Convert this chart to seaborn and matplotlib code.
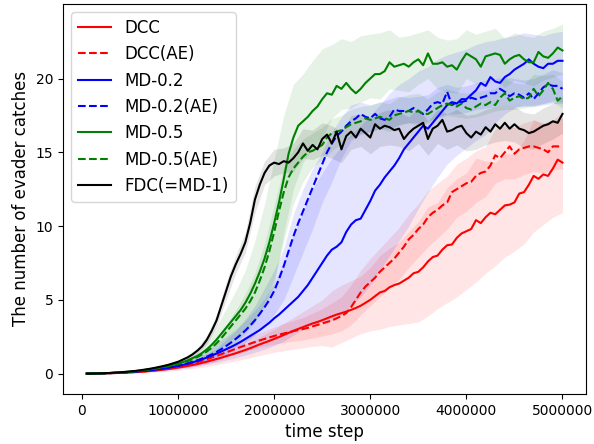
import numpy as np
import pandas as pd
import seaborn as sns
import matplotlib
matplotlib.use("Agg")
import matplotlib.pyplot as plt

# time steps of the curves (every 50000) and of the shaded bands (every 100000)
steps = np.arange(1, 101) * 50000
band_steps = np.arange(1, 51) * 100000

# mean number of evader catches
dcc = [0.0, 0.0, 0.01, 0.01, 0.02, 0.03, 0.04, 0.05, 0.06, 0.08,
       0.1, 0.12, 0.14, 0.17, 0.2, 0.23, 0.27, 0.31, 0.36, 0.41,
       0.46, 0.52, 0.58, 0.65, 0.73, 0.81, 0.9, 0.99, 1.08, 1.18,
       1.28, 1.38, 1.49, 1.6, 1.72, 1.85, 1.98, 2.1, 2.22, 2.35,
       2.48, 2.62, 2.76, 2.9, 3.03, 3.15, 3.28, 3.4, 3.5, 3.62,
       3.75, 3.88, 4.0, 4.1, 4.2, 4.32, 4.45, 4.6, 4.8, 5.0,
       5.25, 5.5, 5.6, 5.85, 6.0, 6.1, 6.3, 6.5, 6.8, 6.9,
       7.2, 7.6, 7.9, 8.0, 8.4, 8.7, 8.75, 9.2, 9.5, 9.65,
       9.8, 10.4, 10.2, 10.6, 10.9, 10.8, 11.1, 11.4, 11.45, 11.6,
       12.2, 12.3, 12.8, 13.4, 13.2, 13.5, 13.4, 13.9, 14.5, 14.3]
dcc_ae = [0.0, 0.0, 0.01, 0.01, 0.02, 0.03, 0.04, 0.05, 0.07, 0.09,
          0.11, 0.13, 0.16, 0.19, 0.22, 0.26, 0.3, 0.35, 0.41, 0.47,
          0.54, 0.61, 0.69, 0.78, 0.88, 0.98, 1.09, 1.2, 1.32, 1.44,
          1.56, 1.68, 1.8, 1.92, 2.03, 2.14, 2.25, 2.35, 2.45, 2.55,
          2.64, 2.72, 2.8, 2.88, 2.95, 3.02, 3.1, 3.2, 3.3, 3.4,
          3.5, 3.6, 3.75, 3.9, 4.1, 4.5, 5.0, 5.5, 5.9, 6.2,
          6.5, 6.9, 7.2, 7.5, 7.8, 8.2, 8.6, 9.1, 9.4, 9.8,
          10.1, 10.6, 10.9, 11.1, 11.4, 11.6, 12.3, 12.5, 12.7, 12.9,
          13.0, 13.4, 13.6, 13.7, 14.1, 14.8, 14.6, 15.0, 15.4, 14.9,
          15.2, 15.3, 15.4, 15.4, 15.3, 15.2, 15.0, 15.4, 15.4, 15.4]
md02 = [0.0, 0.0, 0.01, 0.02, 0.03, 0.04, 0.05, 0.07, 0.09, 0.11,
        0.13, 0.16, 0.19, 0.22, 0.26, 0.3, 0.35, 0.4, 0.46, 0.52,
        0.59, 0.67, 0.76, 0.86, 0.97, 1.09, 1.22, 1.36, 1.5, 1.65,
        1.8, 1.97, 2.15, 2.35, 2.55, 2.75, 2.95, 3.2, 3.45, 3.75,
        4.0, 4.3, 4.6, 4.9, 5.2, 5.6, 6.0, 6.5, 7.0, 7.5,
        8.0, 8.4, 8.6, 8.9, 9.6, 10.1, 10.4, 10.5, 11.1, 11.7,
        12.4, 12.8, 13.3, 13.7, 14.1, 14.6, 15.2, 15.6, 16.0, 16.4,
        16.8, 16.6, 17.0, 17.4, 17.8, 18.2, 18.4, 18.3, 18.6, 18.6,
        18.9, 19.2, 19.7, 19.5, 20.1, 19.8, 19.7, 20.1, 20.3, 20.6,
        20.8, 21.0, 21.3, 21.0, 20.8, 20.7, 21.0, 21.0, 21.2, 21.2]
md02_ae = [0.0, 0.0, 0.01, 0.02, 0.03, 0.04, 0.05, 0.07, 0.09, 0.11,
           0.14, 0.17, 0.2, 0.24, 0.28, 0.32, 0.37, 0.42, 0.48, 0.55,
           0.62, 0.7, 0.8, 0.9, 1.02, 1.15, 1.3, 1.47, 1.66, 1.87,
           2.1, 2.35, 2.62, 2.92, 3.25, 3.62, 4.05, 4.5, 5.0, 5.6,
           6.4, 7.3, 8.3, 9.3, 10.2, 11.0, 11.8, 12.6, 13.4, 14.2,
           15.0, 15.6, 16.1, 16.4, 16.8, 17.1, 17.3, 17.6, 17.4, 17.3,
           17.6, 17.3, 17.2, 17.4, 17.9, 17.8, 17.8, 17.8, 18.0, 17.8,
           17.6, 17.9, 18.3, 18.4, 18.3, 19.1, 18.2, 18.4, 18.4, 18.5,
           18.7, 18.6, 18.7, 18.8, 19.0, 19.0, 19.3, 19.1, 18.8, 19.0,
           18.9, 18.7, 19.0, 18.6, 19.0, 19.4, 19.6, 19.5, 19.5, 19.3]
md05 = [0.0, 0.0, 0.01, 0.02, 0.03, 0.04, 0.06, 0.08, 0.1, 0.13,
        0.16, 0.2, 0.24, 0.29, 0.34, 0.4, 0.46, 0.53, 0.6, 0.68,
        0.78, 0.9, 1.05, 1.2, 1.4, 1.65, 1.95, 2.3, 2.7, 3.1,
        3.5, 3.9, 4.3, 4.8, 5.4, 6.1, 6.9, 7.8, 8.9, 10.2,
        11.6, 13.2, 14.9, 16.0, 16.8, 17.1, 17.4, 17.8, 18.1, 18.6,
        19.0, 18.9, 19.5, 19.3, 19.7, 19.3, 19.0, 19.3, 19.7, 20.0,
        20.3, 20.3, 20.5, 21.1, 20.8, 20.9, 21.0, 20.8, 21.1, 21.3,
        20.9, 21.7, 21.0, 21.0, 21.1, 20.8, 20.9, 20.6, 21.2, 21.7,
        21.5, 21.3, 20.8, 21.5, 21.6, 21.7, 21.6, 21.0, 21.3, 21.5,
        21.6, 21.3, 21.1, 21.1, 21.8, 21.5, 21.4, 21.7, 22.1, 21.9]
md05_ae = [0.0, 0.0, 0.01, 0.02, 0.03, 0.04, 0.06, 0.08, 0.1, 0.13,
           0.16, 0.19, 0.23, 0.28, 0.33, 0.38, 0.44, 0.5, 0.57, 0.65,
           0.74, 0.85, 0.98, 1.12, 1.3, 1.5, 1.75, 2.05, 2.4, 2.8,
           3.2, 3.6, 4.0, 4.4, 4.9, 5.5, 6.3, 7.2, 8.3, 9.6,
           11.0, 12.3, 13.3, 13.9, 14.3, 14.7, 15.0, 15.1, 15.3, 15.5,
           16.0, 16.3, 16.4, 16.5, 16.7, 16.9, 17.0, 17.1, 17.3, 17.2,
           17.3, 17.4, 17.3, 17.2, 17.5, 17.6, 17.7, 17.8, 17.7, 17.8,
           17.6, 17.6, 17.8, 18.0, 18.2, 18.3, 18.2, 18.1, 18.3, 18.0,
           17.9, 18.1, 18.3, 18.2, 18.4, 18.2, 18.7, 19.0, 18.5, 18.7,
           18.8, 18.6, 18.7, 19.3, 18.8, 19.2, 19.7, 19.3, 18.5, 18.8]
fdc = [0.0, 0.0, 0.01, 0.02, 0.03, 0.05, 0.07, 0.09, 0.12, 0.15,
       0.18, 0.22, 0.27, 0.32, 0.38, 0.45, 0.52, 0.6, 0.7, 0.8,
       0.95, 1.1, 1.3, 1.55, 1.85, 2.3, 2.9, 3.6, 4.6, 5.6,
       6.6, 7.4, 8.1, 8.9, 10.2, 11.8, 12.8, 13.6, 14.1, 14.3,
       14.2, 14.4, 14.3, 14.6, 15.0, 15.6, 15.1, 15.5, 15.2, 15.9,
       16.2, 15.6, 16.4, 15.2, 16.1, 16.4, 16.0, 16.6, 16.3, 16.0,
       16.9, 16.6, 16.8, 16.7, 16.5, 16.6, 15.9, 16.3, 16.6, 16.8,
       17.0, 15.9, 16.6, 16.8, 17.2, 16.4, 16.5, 16.7, 16.8, 16.3,
       16.0, 16.4, 16.2, 16.7, 16.4, 16.9, 16.6, 17.0, 16.6, 16.9,
       16.6, 16.5, 16.3, 16.4, 16.6, 16.8, 16.9, 17.1, 17.0, 17.6]

# lower / upper edges of the shaded bands
dcc_lo = [0, 0, 0.01, 0.02, 0.03, 0.05, 0.08, 0.12, 0.17, 0.23,
          0.3, 0.38, 0.48, 0.6, 0.72, 0.86, 1.0, 1.15, 1.3, 1.45,
          1.55, 1.65, 1.75, 1.85, 1.9, 1.8, 2.1, 2.4, 2.7, 2.9,
          3.0, 3.2, 3.3, 3.4, 3.5, 3.9, 4.4, 4.8, 5.2, 5.7,
          6.2, 6.8, 7.3, 7.9, 8.3, 8.8, 9.6, 10.1, 10.6, 10.9]
dcc_hi = [0, 0.02, 0.03, 0.06, 0.09, 0.15, 0.2, 0.28, 0.37, 0.5,
          0.62, 0.78, 0.98, 1.2, 1.45, 1.7, 2.0, 2.3, 2.65, 3.0,
          3.4, 3.8, 4.2, 4.6, 5.0, 5.6, 6.0, 6.3, 6.6, 7.2,
          8.0, 8.5, 8.9, 9.6, 10.3, 11.3, 11.6, 12.6, 13.2, 13.6,
          14.6, 14.4, 14.3, 14.9, 14.9, 15.8, 17.2, 16.9, 17.2, 17.7]
dcc_ae_lo = [0, 0, 0.02, 0.04, 0.07, 0.1, 0.15, 0.2, 0.27, 0.36,
             0.47, 0.6, 0.76, 0.93, 1.1, 1.3, 1.5, 1.7, 1.85, 2.0,
             2.1, 2.2, 2.3, 2.4, 2.55, 2.7, 2.9, 3.3, 4.0, 4.6,
             5.2, 5.8, 6.4, 7.2, 7.9, 8.6, 9.2, 9.8, 10.6, 11.0,
             11.6, 12.0, 12.9, 13.2, 13.2, 13.5, 13.7, 13.6, 13.8, 13.9]
dcc_ae_hi = [0, 0.02, 0.04, 0.07, 0.11, 0.16, 0.23, 0.32, 0.44, 0.58,
             0.76, 0.97, 1.2, 1.5, 1.8, 2.1, 2.4, 2.65, 2.9, 3.15,
             3.4, 3.6, 3.8, 4.1, 4.4, 4.8, 5.2, 6.0, 7.0, 7.8,
             8.5, 9.2, 9.9, 10.8, 11.5, 12.4, 12.9, 13.4, 14.2, 14.6,
             15.1, 15.4, 16.6, 16.8, 16.7, 17.0, 17.2, 17.0, 17.2, 17.3]
md02_lo = [0, 0.01, 0.02, 0.04, 0.07, 0.1, 0.14, 0.19, 0.25, 0.32,
           0.4, 0.5, 0.62, 0.76, 0.92, 1.08, 1.25, 1.45, 1.65, 1.9,
           2.2, 2.6, 3.0, 3.3, 3.5, 3.6, 4.0, 4.6, 5.2, 6.0,
           7.0, 8.0, 9.0, 10.0, 11.2, 12.3, 13.3, 14.2, 14.8, 15.3,
           15.8, 16.2, 17.0, 17.6, 18.0, 18.2, 18.1, 18.2, 18.3, 18.3]
md02_hi = [0, 0.03, 0.06, 0.1, 0.16, 0.24, 0.33, 0.45, 0.6, 0.78,
           1.0, 1.3, 1.65, 2.05, 2.5, 3.0, 3.6, 4.3, 5.1, 6.1,
           7.6, 9.4, 11.0, 12.5, 13.6, 14.6, 15.4, 16.2, 16.8, 17.5,
           18.2, 19.0, 19.6, 20.0, 20.5, 20.8, 21.3, 21.6, 21.8, 22.0,
           22.3, 22.5, 22.6, 22.8, 22.9, 23.1, 23.0, 22.9, 23.1, 23.2]
md02_ae_lo = [0, 0.01, 0.02, 0.04, 0.07, 0.11, 0.15, 0.2, 0.27, 0.35,
              0.45, 0.56, 0.7, 0.85, 1.3, 1.7, 2.1, 2.6, 3.3, 4.0,
              5.0, 6.6, 8.2, 9.8, 11.6, 13.0, 14.6, 15.8, 16.2, 16.4,
              16.6, 16.6, 16.9, 17.0, 17.0, 17.1, 17.4, 17.6, 17.6, 17.7,
              17.9, 18.0, 18.1, 18.2, 18.1, 18.1, 18.2, 18.3, 18.5, 18.4]
md02_ae_hi = [0, 0.02, 0.04, 0.07, 0.11, 0.16, 0.23, 0.31, 0.42, 0.55,
              0.8, 1.05, 1.35, 1.7, 2.3, 2.9, 3.7, 4.6, 5.8, 7.0,
              8.5, 10.8, 12.5, 13.9, 15.0, 16.4, 17.4, 18.2, 18.4, 18.2,
              18.4, 18.6, 18.8, 18.7, 18.8, 18.9, 19.4, 19.6, 19.4, 19.5,
              19.7, 19.9, 20.0, 20.1, 20.0, 19.9, 20.0, 20.3, 20.6, 20.4]
md05_lo = [0, 0, 0.01, 0.02, 0.05, 0.1, 0.18, 0.28, 0.38, 0.5,
           0.6, 0.8, 1.1, 1.5, 2.0, 2.5, 3.0, 3.6, 4.5, 6.0,
           9.5, 12.5, 14.3, 15.3, 16.0, 17.3, 17.9, 18.0, 18.4, 18.7,
           18.6, 19.3, 19.2, 19.1, 19.6, 20.0, 19.3, 19.1, 19.0, 20.0,
           19.6, 19.8, 20.0, 19.4, 19.9, 19.7, 19.5, 19.9, 20.1, 20.3]
md05_hi = [0, 0, 0.03, 0.06, 0.12, 0.22, 0.36, 0.52, 0.7, 0.9,
           1.2, 1.6, 2.3, 3.2, 4.4, 5.6, 7.0, 9.0, 11.5, 14.5,
           17.5, 19.6, 20.3, 21.2, 22.0, 22.3, 22.7, 22.5, 22.9, 23.0,
           23.1, 23.3, 22.8, 22.9, 23.1, 23.3, 22.8, 22.6, 22.7, 23.3,
           23.0, 23.2, 23.4, 22.7, 23.1, 22.9, 22.8, 23.2, 23.4, 23.7]
md05_ae_lo = [0, 0, 0.01, 0.03, 0.06, 0.1, 0.15, 0.22, 0.3, 0.42,
              0.55, 0.72, 0.95, 1.25, 1.65, 2.1, 2.7, 3.5, 4.7, 6.4,
              9.0, 11.5, 13.0, 14.0, 14.5, 15.1, 15.6, 16.0, 16.3, 16.4,
              16.6, 16.4, 16.8, 17.0, 16.8, 17.0, 17.3, 17.5, 17.4, 17.3,
              17.4, 17.6, 17.8, 17.9, 17.9, 18.0, 18.1, 18.3, 18.4, 18.0]
md05_ae_hi = [0, 0.01, 0.03, 0.06, 0.1, 0.16, 0.24, 0.35, 0.48, 0.65,
              0.95, 1.3, 1.8, 2.4, 3.3, 4.3, 5.4, 6.8, 8.8, 11.4,
              14.0, 15.2, 15.9, 16.3, 16.7, 17.3, 17.5, 17.9, 18.1, 18.2,
              18.4, 18.3, 18.7, 18.9, 19.0, 18.6, 19.1, 19.3, 19.1, 19.0,
              19.1, 19.2, 19.3, 20.0, 19.7, 19.6, 20.3, 20.2, 20.3, 19.8]
fdc_lo = [0, 0.01, 0.03, 0.06, 0.12, 0.18, 0.28, 0.4, 0.52, 0.7,
          0.95, 1.35, 2.0, 3.2, 5.0, 6.8, 8.2, 10.9, 12.8, 13.4,
          13.6, 13.7, 14.6, 14.5, 14.8, 14.6, 14.3, 15.2, 15.4, 14.9,
          15.4, 15.5, 15.4, 15.1, 15.6, 14.8, 15.6, 15.2, 15.5, 15.1,
          15.2, 15.5, 15.7, 15.8, 15.7, 15.3, 15.2, 15.6, 15.9, 16.3]
fdc_hi = [0.01, 0.03, 0.06, 0.12, 0.2, 0.28, 0.38, 0.52, 0.7, 0.92,
          1.25, 1.75, 2.6, 4.0, 6.2, 8.0, 9.6, 12.7, 14.4, 15.2,
          15.3, 15.6, 16.6, 16.5, 17.0, 16.8, 16.4, 17.5, 17.6, 17.2,
          17.7, 17.9, 17.7, 17.4, 18.0, 17.1, 17.9, 17.6, 17.9, 17.5,
          17.6, 17.9, 18.1, 18.2, 18.1, 17.7, 17.6, 18.0, 18.3, 18.8]

series = [
    ("DCC", dcc, dcc_lo, dcc_hi, "red", "-"),
    ("DCC(AE)", dcc_ae, dcc_ae_lo, dcc_ae_hi, "red", "--"),
    ("MD-0.2", md02, md02_lo, md02_hi, "blue", "-"),
    ("MD-0.2(AE)", md02_ae, md02_ae_lo, md02_ae_hi, "blue", "--"),
    ("MD-0.5", md05, md05_lo, md05_hi, "green", "-"),
    ("MD-0.5(AE)", md05_ae, md05_ae_lo, md05_ae_hi, "green", "--"),
    ("FDC(=MD-1)", fdc, fdc_lo, fdc_hi, "black", "-"),
]

fig, ax = plt.subplots(figsize=(5.94, 4.44), dpi=100)
fig.subplots_adjust(left=0.106, right=0.987, bottom=0.113, top=0.991)

# 阴影带
for name, mean, lo, hi, color, ls in series:
    ax.fill_between(band_steps, lo, hi, color=color, alpha=0.1, linewidth=0, zorder=1)

# 均值曲线
for name, mean, lo, hi, color, ls in series:
    df = pd.DataFrame({"step": steps, "catches": mean})
    sns.lineplot(data=df, x="step", y="catches", color=color, linestyle=ls,
                 linewidth=1.5, label=name, ax=ax, zorder=3)

ax.set_xlim(-197500, 5247500)
ax.set_ylim(-1.37, 25.05)
ax.set_xticks([0, 1000000, 2000000, 3000000, 4000000, 5000000])
ax.set_yticks([0, 5, 10, 15, 20])
ax.ticklabel_format(style="plain", axis="x")
ax.tick_params(labelsize=10)
ax.set_xlabel("time step", fontsize=12)
ax.set_ylabel("The number of evader catches", fontsize=12)
ax.legend(loc="upper left", fontsize=12)

plt.savefig("out.png", dpi=100)
